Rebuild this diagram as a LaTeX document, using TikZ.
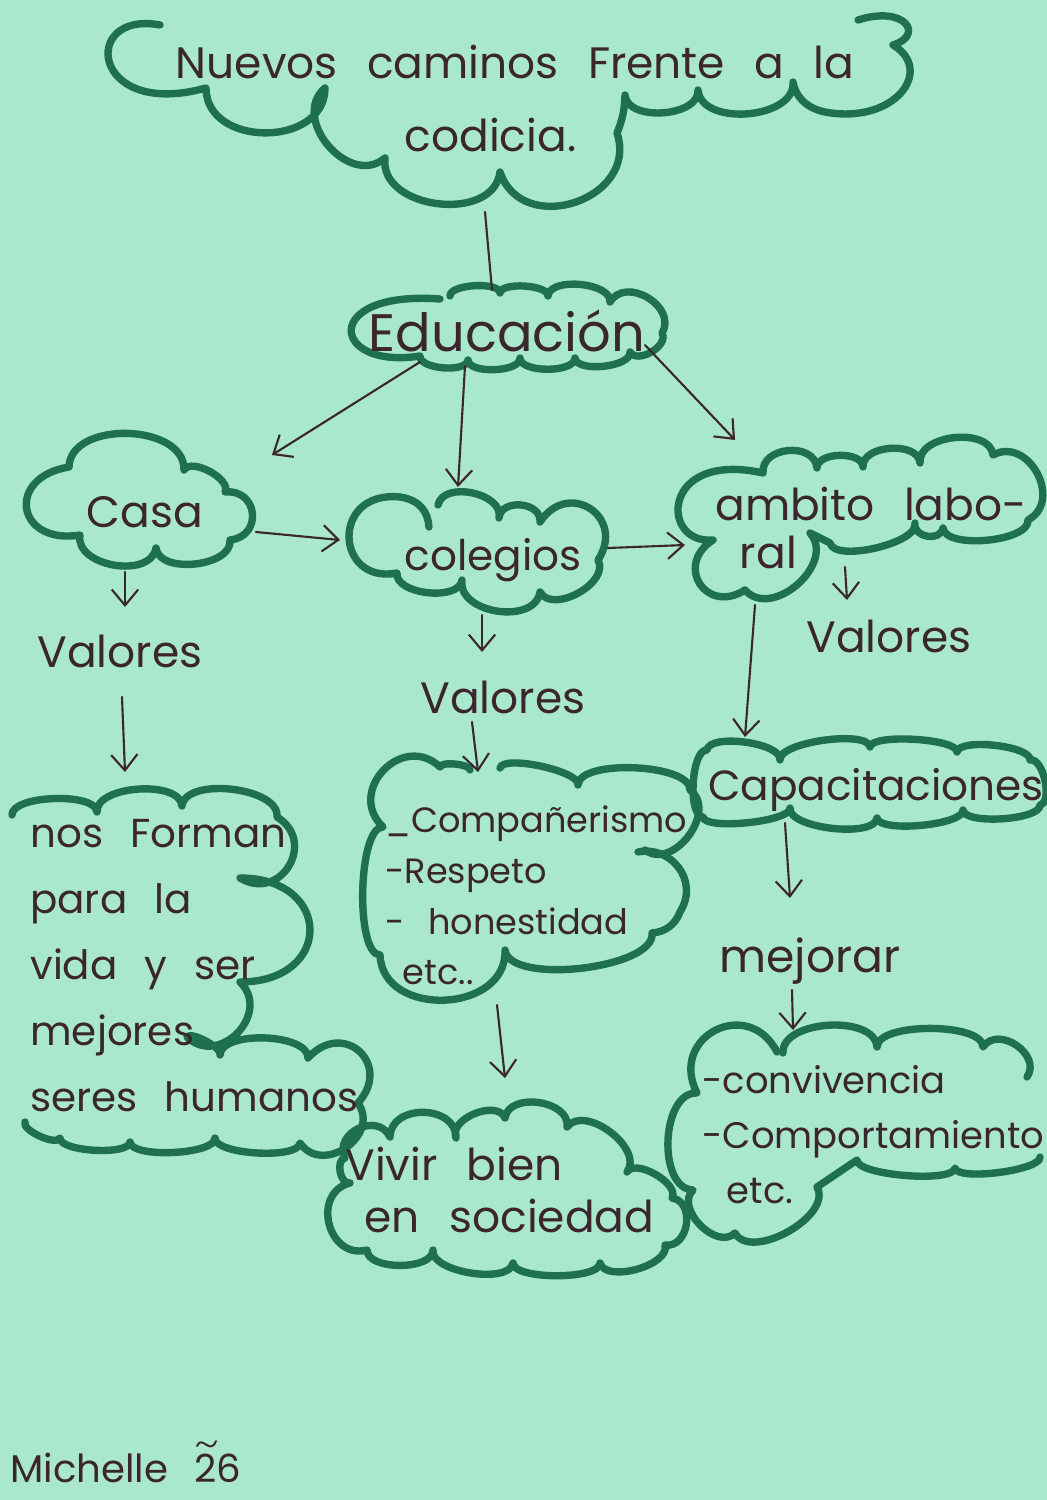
\documentclass[tikz,border=0pt]{standalone}
\usepackage{fontspec}
\setmainfont{Poppins}[WordSpace=2.5]
\usetikzlibrary{arrows.meta}
\definecolor{paper}{RGB}{170,232,206}
\definecolor{cloudgreen}{RGB}{30,112,80}
\definecolor{ink}{RGB}{58,38,44}
\newcommand\hfs[2]{\fontsize{#1}{#2}\selectfont}
\begin{document}
\begin{tikzpicture}[x=0.02cm,y=0.02cm,
  cl/.style={draw=cloudgreen,line width=4.2pt,line cap=round,line join=round},
  pf/.style={bend left=90,looseness=#1},
  txt/.style={text=ink,inner sep=0pt},
  cn/.style={draw=ink,line width=1.2pt,line cap=round},
  ar/.style={cn,-{Straight Barb[length=9pt,width=15pt]}}]
\fill[paper] (0,0) rectangle (1047,-1500);
\useasboundingbox (0,0) rectangle (1047,-1500);

% ---------- clouds ----------
% title cloud
\draw[cl] (858,-20) .. controls (905,-5) and (925,-35) .. (893,-45)
  .. controls (935,-70) and (895,-125) .. (825,-112)
  .. controls (805,-108) and (795,-95) .. (793,-82)
  to[pf=1] (698,-90) to[pf=0.95] (625,-95) to[bend left=10] (617,-133)
  to[pf=1.45] (500,-172) to[pf=1.15] (385,-158) to[pf=1.3] (325,-88)
  to[pf=1.29] (206,-88) .. controls (90,-120) and (80,-10) .. (160,-25);
% Educacion
\draw[cl] (450,-296) to[pf=.6] (500,-293) to[pf=.6] (548,-296) to[pf=.8] (610,-302)
  to[pf=1.3] (662,-333) to[pf=1] (630,-352) to[pf=.7] (575,-358) to[pf=.7] (520,-358)
  to[pf=.7] (468,-360) to[pf=.7] (420,-356) .. controls (330,-370) and (320,-290) .. (440,-299);
% Casa
\draw[cl] (69,-467) to[pf=1.04] (184,-470) to[pf=.8] (225,-492) to[pf=1.77] (230,-540)
  to[pf=.92] (156,-548) to[pf=1.06] (80,-535) to[pf=2.4] cycle;
% colegios
\draw[cl] (438,-505) to[pf=1.04] (499,-518) to[pf=1.25] (540,-522) to[pf=1.9] (598,-560)
  to[pf=1] (540,-592) to[pf=1.1] (462,-580) to[pf=.85] (397,-573)
  .. controls (335,-585) and (330,-490) .. (400,-497)
  .. controls (420,-500) and (428,-512) .. (429,-527);
% ambito laboral
\draw[cl] (763,-473) to[pf=1.26] (817,-468) to[pf=.9] (863,-467) to[pf=1] (920,-463)
  to[pf=1] (993,-455) to[pf=1.4] (1028,-520) to[pf=.65] (943,-528) to[pf=1.3] (915,-523)
  to[pf=.6] (830,-543) -- (810,-533) to[pf=1.2] (745,-590) to[pf=2] (713,-540)
  .. controls (660,-545) and (660,-450) .. (763,-473);
% Capacitaciones
\draw[cl] (707,-750) to[pf=.6] (780,-760) to[pf=.5] (870,-747) to[pf=.4] (957,-752)
  to[pf=.5] (1030,-760) to[pf=.75] (1040,-805) to[pf=.5] (963,-810) to[pf=.45] (877,-818)
  to[pf=.6] (790,-808) to[pf=.4] (703,-817) to[pf=.6] cycle;
% Companerismo list
\draw[cl] (500,-768) to[pf=.45] (578,-785) to[pf=.6] (690,-790) to[pf=1.2] (645,-850);
\draw[cl] (638,-852) .. controls (670,-845) and (700,-880) .. (680,-912)
  .. controls (675,-925) and (665,-932) .. (652,-933)
  to[pf=.62] (505,-950) to[pf=1.3] (380,-955) to[pf=.5] (383,-827)
  to[pf=1.6] (440,-767) to[pf=.5] (470,-770);
% nos forman
\draw[cl] (12,-815) to[pf=.6] (97,-812) to[pf=.8] (182,-806) to[pf=.8] (277,-817)
  to[pf=1.7] (240,-878) to[pf=2.3] (240,-982) to[pf=1.5] (187,-1037) to[pf=.5] (220,-1055)
  to[pf=.72] (308,-1058) to[pf=2] (358,-1103) to[pf=1.45] (300,-1143) to[pf=.5] (215,-1138)
  to[pf=.5] (130,-1142) to[pf=.5] (60,-1138) to[pf=.6] (25,-1122);
% Vivir bien
\draw[cl] (345,-1158) to[pf=1.45] (390,-1137) to[pf=1.3] (456,-1138) to[pf=1] (505,-1118)
  to[pf=1.1] (567,-1127) to[pf=1] (627,-1172) to[pf=.8] (672,-1198) to[pf=1.3] (665,-1245)
  to[pf=.8] (600,-1263) to[pf=.5] (513,-1263) to[pf=.7] (433,-1250) to[pf=.8] (367,-1250)
  to[pf=1.5] (350,-1183) to[pf=1] cycle;
% convivencia
\draw[cl] (783,-1053) to[pf=.9] (877,-1047) to[pf=.6] (983,-1047) to[pf=1.3] (1027,-1077);
\draw[cl] (1040,-1157) to[pf=.4] (955,-1168) to[pf=.4] (857,-1160) -- (817,-1187)
  to[pf=.9] (735,-1233) to[pf=1.1] (693,-1190) to[pf=.95] (697,-1093) to[pf=1.8] (777,-1052);

% ---------- texts ----------
\node[txt,font=\hfs{25}{41.5},align=center,anchor=north] (title) at (515,-45)
  {Nuevos caminos Frente a la\\codicia.\hspace*{28pt}};
\node[txt,font=\hfs{30}{36},anchor=base] (edu) at (507,-352) {Educación};
\node[txt,font=\hfs{25}{30},anchor=base] (casa) at (145,-527) {Casa};
\node[txt,font=\hfs{24}{29},anchor=base] (col) at (493,-570) {colegios};
\node[txt,font=\hfs{25}{27.3},align=left,anchor=north west] (amb) at (715,-487)
  {ambito labo-\\\hspace*{14pt}ral};
\node[txt,font=\hfs{25}{30},anchor=base] (v1) at (120,-667) {Valores};
\node[txt,font=\hfs{25}{30},anchor=base] (v2) at (503,-713) {Valores};
\node[txt,font=\hfs{25}{30},anchor=base] (v3) at (889,-652) {Valores};
\node[txt,font=\hfs{24}{29},anchor=base] (cap) at (876,-800) {Capacitaciones};
\node[txt,font=\hfs{23}{37.6},align=left,anchor=north west] (nf) at (30,-819)
  {nos Forman\\para la\\vida y ser\\mejores\\seres humanos};
\node[txt,font=\hfs{20}{29},align=left,anchor=north west] (cp) at (385,-805)
  {\_Compañerismo\\-Respeto\\- honestidad\\\hspace*{10pt}etc..};
\node[txt,font=\hfs{25}{29.6},align=left,anchor=north west] (vb) at (345,-1147)
  {Vivir bien\\\hspace*{11pt}en sociedad};
\node[txt,font=\hfs{26}{30},anchor=base] (mej) at (810,-972) {mejorar};
\node[txt,font=\hfs{21}{31.3},align=left,anchor=north west] (cv) at (702,-1065)
  {-convivencia\\-Comportamiento\\\hspace*{14pt}etc.};
\node[txt,font=\hfs{22}{26},anchor=base west] (sig) at (10,-1482) {Michelle 26};
% tilde stroke above the 2 of the signature
\draw[cn,line width=1.1pt] (197,-1446) .. controls (202,-1434) and (210,-1456) .. (216,-1441);

% ---------- connector ends ----------
\coordinate (t-s) at (485,-212);
\coordinate (e-n) at (492,-290);
\coordinate (e-sw) at (420,-362);
\coordinate (ca-ne) at (272,-455);
\coordinate (e-s) at (465,-366);
\coordinate (co-n) at (458,-487);
\coordinate (e-se) at (645,-345);
\coordinate (am-nw) at (735,-440);
\coordinate (ca-e) at (256,-532);
\coordinate (co-w) at (340,-540);
\coordinate (co-e) at (608,-548);
\coordinate (am-w) at (685,-545);
\coordinate (ca-s) at (125,-572);
\coordinate (v1-n) at (125,-607);
\coordinate (v1-s) at (122,-697);
\coordinate (nf-n) at (125,-772);
\coordinate (co-s) at (482,-615);
\coordinate (v2-n) at (482,-652);
\coordinate (v2-s) at (472,-722);
\coordinate (cp-n) at (478,-772);
\coordinate (cp-s) at (497,-1005);
\coordinate (vb-n) at (505,-1078);
\coordinate (am-s) at (845,-567);
\coordinate (v3-n) at (847,-600);
\coordinate (am-sw) at (755,-605);
\coordinate (ka-n) at (745,-737);
\coordinate (ka-s) at (785,-823);
\coordinate (mj-n) at (790,-898);
\coordinate (mj-s) at (792,-990);
\coordinate (cv-n) at (793,-1030);

% ---------- connectors ----------
\draw[cn] (t-s) -- (e-n);
\draw[ar] (e-sw) -- (ca-ne);
\draw[ar] (e-s) -- (co-n);
\draw[ar] (e-se) -- (am-nw);
\draw[ar] (ca-e) -- (co-w);
\draw[ar] (co-e) -- (am-w);
\draw[ar] (ca-s) -- (v1-n);
\draw[ar] (v1-s) -- (nf-n);
\draw[ar] (co-s) -- (v2-n);
\draw[ar] (v2-s) -- (cp-n);
\draw[ar] (cp-s) -- (vb-n);
\draw[ar] (am-s) -- (v3-n);
\draw[ar] (am-sw) -- (ka-n);
\draw[ar] (ka-s) -- (mj-n);
\draw[ar] (mj-s) -- (cv-n);
\end{tikzpicture}
\end{document}
